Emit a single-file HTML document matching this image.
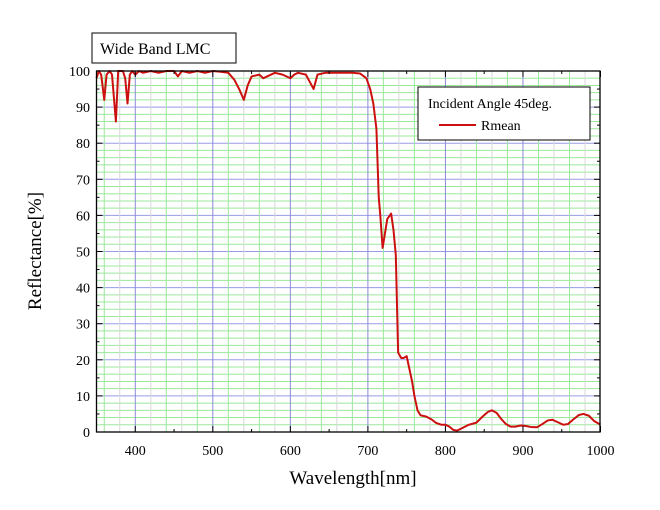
<!DOCTYPE html>
<html><head><meta charset="utf-8"><style>
body{margin:0;background:#fff}
svg{display:block;font-family:"Liberation Serif",serif}
</style></head><body>
<svg id="s" width="660" height="510" viewBox="0 0 660 510">
<rect x="0" y="0" width="660" height="510" fill="#fff"/>
<g id="grid"></g>
<g transform="translate(96.5,432) scale(0.7754,-3.61) translate(-350,0)">
<polyline fill="none" stroke="#cc1010" stroke-width="2" vector-effect="non-scaling-stroke" stroke-linejoin="round" points="350,98 353,100 356,99 360,92 363,99 367,100 370,99 375,86 378,100 384,100 387,98 390,91 393,99 396,100 400,99 405,100 410,99.5 420,100 430,99.5 440,100 450,100 455,98.5 460,100 470,99.5 480,100 490,99.5 500,100 510,99.8 520,99.5 528,97.5 534,95 540,92 545,96 550,98.5 560,99 565,98 570,98.5 580,99.5 590,99 600,98 605,99 610,99.5 620,99 625,97 630,95 635,99 645,99.5 660,99.5 680,99.5 690,99.3 698,98 703,95 707,91 711,84 714,65 716,60 719,51 722,55 725,59 730,60.5 733,56 736,49 739,22 743,20.5 746,20.5 750,21 753,18 757,14 760,10 764,6 768,4.6 775,4.3 782,3.5 788,2.5 795,2 800,2 805,1.5 810,0.6 815,0.4 820,0.9 830,2 840,2.6 848,4.3 855,5.6 860,6 866,5.3 872,3.6 878,2.2 884,1.5 890,1.5 897,1.8 903,1.7 910,1.4 918,1.3 925,2.2 932,3.2 938,3.4 945,2.7 952,2 958,2.2 965,3.5 972,4.7 978,5 985,4.5 992,3 1000,2"/>
</g>
<rect x="96.5" y="71" width="503.5" height="361" fill="none" stroke="#000" stroke-width="1.3"/>
<g id="ticks" stroke="#000" stroke-width="1"></g>
<g id="labels" font-size="14" fill="#000"></g>
<rect x="92" y="33" width="144" height="30" fill="#fff" stroke="#000"/>
<text x="100" y="54" font-size="16">Wide Band LMC</text>
<rect x="418" y="87" width="172" height="53" fill="#fff" stroke="#000"/>
<text x="428" y="108" font-size="14">Incident Angle 45deg.</text>
<line x1="439" y1="125" x2="476" y2="125" stroke="#cc1010" stroke-width="2"/>
<text x="481" y="130" font-size="14">Rmean</text>
<text x="353" y="484" font-size="19" text-anchor="middle">Wavelength[nm]</text>
<text transform="translate(41,251) rotate(-90)" font-size="19" text-anchor="middle">Reflectance[%]</text>
</svg>
<script>
var NS="http://www.w3.org/2000/svg";
function X(n){return 96.5+(n-350)*0.7754}
function Y(v){return 432-v*3.61}
function ln(g,x1,y1,x2,y2,c,w){var l=document.createElementNS(NS,"line");l.setAttribute("x1",x1);l.setAttribute("y1",y1);l.setAttribute("x2",x2);l.setAttribute("y2",y2);if(c)l.setAttribute("stroke",c);l.setAttribute("stroke-width",w||1);document.getElementById(g).appendChild(l)}
function tx(x,y,s,a){var t=document.createElementNS(NS,"text");t.setAttribute("x",x);t.setAttribute("y",y);t.setAttribute("text-anchor",a);t.textContent=s;document.getElementById("labels").appendChild(t)}
for(var v=2;v<100;v+=2){ln("grid",96.5,Y(v),600,Y(v),v%10==0?"#9a9ae8":"#9be89b",1)}
for(var n=360;n<1000;n+=20){var c=(n%100==0)?"#8a8ad8":(n%40==0?"#9be89b":"#d8d8d8");ln("grid",X(n),71,X(n),432,c,1)}
for(var n=350;n<=1000;n+=50){var L=(n%100==0)?6:3;ln("ticks",X(n),432,X(n),432-L);ln("ticks",X(n),71,X(n),71+L)}
for(var v=0;v<=100;v+=5){var L=(v%10==0)?6:3;ln("ticks",96.5,Y(v),96.5+L,Y(v));ln("ticks",600,Y(v),600-L,Y(v));if(v%10==0)tx(90,Y(v)+5,String(v),"end")}
for(var n=400;n<=1000;n+=100)tx(X(n),455,String(n),"middle");
</script>
</body></html>
